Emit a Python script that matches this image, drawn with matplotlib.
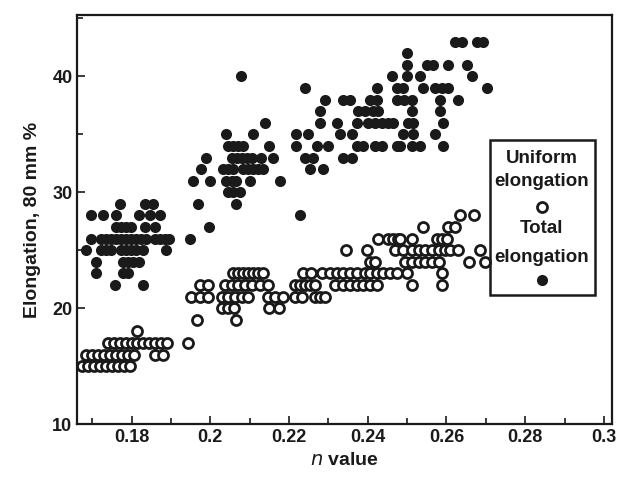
import matplotlib.pyplot as plt
from matplotlib.patches import Rectangle
from matplotlib.ticker import MultipleLocator, FuncFormatter

# (n value, elongation %)
uniform_points = [
    (0.1815, 18),
    (0.1740, 17), (0.1755, 17), (0.1770, 17), (0.1785, 17), (0.1800, 17), (0.1815, 17),
    (0.1830, 17), (0.1845, 17), (0.1860, 17), (0.1875, 17), (0.1890, 17), (0.1943, 17),
    (0.1685, 16), (0.1700, 16), (0.1715, 16), (0.1730, 16), (0.1745, 16), (0.1760, 16),
    (0.1775, 16), (0.1790, 16), (0.1805, 16), (0.1860, 16), (0.1880, 16),
    (0.1675, 15), (0.1690, 15), (0.1705, 15), (0.1720, 15), (0.1735, 15), (0.1750, 15),
    (0.1765, 15), (0.1780, 15), (0.1795, 15),
    (0.1965, 19), (0.2066, 19),
    (0.2057, 23), (0.2070, 23), (0.2083, 23), (0.2096, 23), (0.2108, 23), (0.2121, 23), (0.2133, 23),
    (0.1973, 22), (0.1994, 22), (0.2037, 22), (0.2054, 22), (0.2071, 22), (0.2088, 22),
    (0.2105, 22), (0.2126, 22), (0.2146, 22),
    (0.1952, 21), (0.1973, 21), (0.1994, 21), (0.2029, 21), (0.2046, 21), (0.2063, 21),
    (0.2080, 21), (0.2097, 21), (0.2146, 21), (0.2165, 21), (0.2184, 21),
    (0.2029, 20), (0.2045, 20), (0.2060, 20), (0.2150, 20), (0.2175, 20),
    (0.2427, 26), (0.2452, 26), (0.2465, 26), (0.2478, 26),
    (0.2346, 25), (0.2397, 25), (0.2469, 25),
    (0.2406, 24), (0.2418, 24),
    (0.2236, 23), (0.2257, 23), (0.2283, 23), (0.2304, 23), (0.2321, 23), (0.2338, 23),
    (0.2355, 23), (0.2372, 23), (0.2393, 23), (0.2406, 23), (0.2423, 23), (0.2440, 23),
    (0.2457, 23), (0.2474, 23),
    (0.2215, 22), (0.2227, 22), (0.2240, 22), (0.2253, 22), (0.2266, 22), (0.2317, 22),
    (0.2338, 22), (0.2355, 22), (0.2372, 22), (0.2389, 22), (0.2406, 22), (0.2423, 22),
    (0.2215, 21), (0.2232, 21), (0.2266, 21), (0.2279, 21), (0.2291, 21),
    (0.2635, 28), (0.2669, 28),
    (0.2541, 27), (0.2605, 27), (0.2622, 27),
    (0.2482, 26), (0.2512, 26), (0.2575, 26), (0.2588, 26), (0.2601, 26),
    (0.2490, 25), (0.2512, 25), (0.2529, 25), (0.2546, 25), (0.2563, 25), (0.2580, 25),
    (0.2597, 25), (0.2609, 25), (0.2630, 25), (0.2686, 25),
    (0.2495, 24), (0.2512, 24), (0.2529, 24), (0.2546, 24), (0.2563, 24), (0.2580, 24),
    (0.2656, 24), (0.2698, 24),
    (0.2499, 23), (0.2588, 23),
    (0.2512, 22), (0.2588, 22),
]

total_points = [
    (0.1770, 29), (0.1833, 29), (0.1854, 29),
    (0.1697, 28), (0.1727, 28), (0.1761, 28), (0.1820, 28), (0.1846, 28), (0.1871, 28),
    (0.1761, 27), (0.1774, 27), (0.1786, 27), (0.1799, 27), (0.1833, 27), (0.1859, 27),
    (0.1697, 26), (0.1723, 26), (0.1736, 26), (0.1749, 26), (0.1761, 26), (0.1774, 26),
    (0.1786, 26), (0.1799, 26), (0.1812, 26), (0.1825, 26), (0.1836, 26), (0.1859, 26),
    (0.1871, 26), (0.1884, 26), (0.1895, 26), (0.1948, 26),
    (0.1685, 25), (0.1723, 25), (0.1736, 25), (0.1749, 25), (0.1774, 25), (0.1786, 25),
    (0.1799, 25), (0.1812, 25), (0.1828, 25), (0.1888, 25),
    (0.1710, 24), (0.1778, 24), (0.1791, 24), (0.1803, 24), (0.1820, 24),
    (0.1710, 23), (0.1778, 23), (0.1791, 23),
    (0.1757, 22), (0.1829, 22),
    (0.2079, 40), (0.2240, 39), (0.2138, 36),
    (0.2041, 35), (0.2109, 35), (0.2219, 35), (0.2249, 35),
    (0.2045, 34), (0.2058, 34), (0.2071, 34), (0.2084, 34), (0.2149, 34), (0.2219, 34),
    (0.1990, 33), (0.2054, 33), (0.2067, 33), (0.2080, 33), (0.2092, 33), (0.2105, 33),
    (0.2130, 33), (0.2160, 33), (0.2240, 33),
    (0.1977, 32), (0.2032, 32), (0.2045, 32), (0.2058, 32), (0.2083, 32), (0.2096, 32),
    (0.2109, 32), (0.2121, 32), (0.2134, 32), (0.2253, 32),
    (0.1956, 31), (0.1998, 31), (0.2041, 31), (0.2054, 31), (0.2066, 31), (0.2100, 31), (0.2177, 31),
    (0.2045, 30), (0.2058, 30), (0.2075, 30),
    (0.1969, 29), (0.2066, 29), (0.2227, 28), (0.1997, 27),
    (0.2461, 40),
    (0.2423, 39), (0.2474, 39),
    (0.2291, 38), (0.2338, 38), (0.2355, 38), (0.2406, 38), (0.2423, 38), (0.2474, 38),
    (0.2278, 37), (0.2376, 37), (0.2393, 37), (0.2414, 37), (0.2427, 37),
    (0.2278, 36), (0.2321, 36), (0.2372, 36), (0.2401, 36), (0.2418, 36), (0.2435, 36),
    (0.2452, 36), (0.2465, 36),
    (0.2329, 35), (0.2359, 35),
    (0.2270, 34), (0.2300, 34), (0.2372, 34), (0.2388, 34), (0.2418, 34), (0.2435, 34), (0.2474, 34),
    (0.2261, 33), (0.2338, 33), (0.2359, 33),
    (0.2287, 32),
    (0.2622, 43), (0.2639, 43), (0.2677, 43), (0.2694, 43),
    (0.2499, 42),
    (0.2499, 41), (0.2550, 41), (0.2567, 41), (0.2605, 41), (0.2652, 41),
    (0.2499, 40), (0.2533, 40), (0.2664, 40),
    (0.2490, 39), (0.2541, 39), (0.2571, 39), (0.2588, 39), (0.2605, 39), (0.2702, 39),
    (0.2491, 38), (0.2512, 38), (0.2584, 38), (0.2630, 38),
    (0.2512, 37), (0.2584, 37),
    (0.2503, 36), (0.2516, 36), (0.2592, 36),
    (0.2490, 35), (0.2516, 35), (0.2571, 35),
    (0.2482, 34), (0.2512, 34), (0.2533, 34), (0.2592, 34),
]

plt.rcParams['font.family'] = ['Liberation Sans', 'DejaVu Sans']
ink = '#1a1a1a'

fig = plt.figure(figsize=(6.23, 4.82), dpi=100)
ax = fig.add_axes([0.124, 0.120, 0.858, 0.849])

un, ue = zip(*uniform_points)
tn, te = zip(*total_points)

ax.plot(tn, te, 'o', color=ink, markersize=8, markeredgewidth=0)
ax.plot(un, ue, 'o', markerfacecolor='white', markeredgecolor=ink,
        markersize=7.2, markeredgewidth=2)

ax.set_xlim(0.1662, 0.302)
ax.set_ylim(10, 45.3)
ax.xaxis.set_major_locator(MultipleLocator(0.02))
ax.xaxis.set_minor_locator(MultipleLocator(0.01))
ax.yaxis.set_major_locator(MultipleLocator(10))
ax.yaxis.set_minor_locator(MultipleLocator(5))
ax.xaxis.set_major_formatter(FuncFormatter(lambda v, p: '%g' % round(v, 2)))
ax.tick_params(which='both', direction='in', labelsize=13, width=1.2, colors=ink)
ax.tick_params(which='major', length=6)
ax.tick_params(which='minor', length=4)
for lab in ax.get_xticklabels() + ax.get_yticklabels():
    lab.set_fontweight('bold')
for s in ax.spines.values():
    s.set_linewidth(1.6)
    s.set_color(ink)

ax.set_xlabel('$\\mathbf{\\it{n}}$ value', fontsize=14, fontweight='bold', color=ink)
ax.set_ylabel('Elongation, 80 mm %', fontsize=14, fontweight='bold', color=ink, labelpad=8)

# legend box drawn by hand: text above each marker
ax.add_patch(Rectangle((0.772, 0.315), 0.196, 0.379, transform=ax.transAxes,
                       fill=False, lw=1.8, edgecolor=ink, zorder=5))
xc = 0.869
legend_lines = [('Uniform', 0.650), ('elongation', 0.592), ('Total', 0.479), ('elongation', 0.408)]
for txt, yy in legend_lines:
    ax.text(xc, yy, txt, transform=ax.transAxes, ha='center', va='center',
            fontsize=13.5, fontweight='bold', color=ink)
ax.plot([xc], [0.531], 'o', transform=ax.transAxes, markerfacecolor='white',
        markeredgecolor=ink, markersize=7.2, markeredgewidth=2)
ax.plot([xc], [0.352], 'o', transform=ax.transAxes, color=ink,
        markersize=8, markeredgewidth=0)

fig.savefig('out.png', dpi=100)
